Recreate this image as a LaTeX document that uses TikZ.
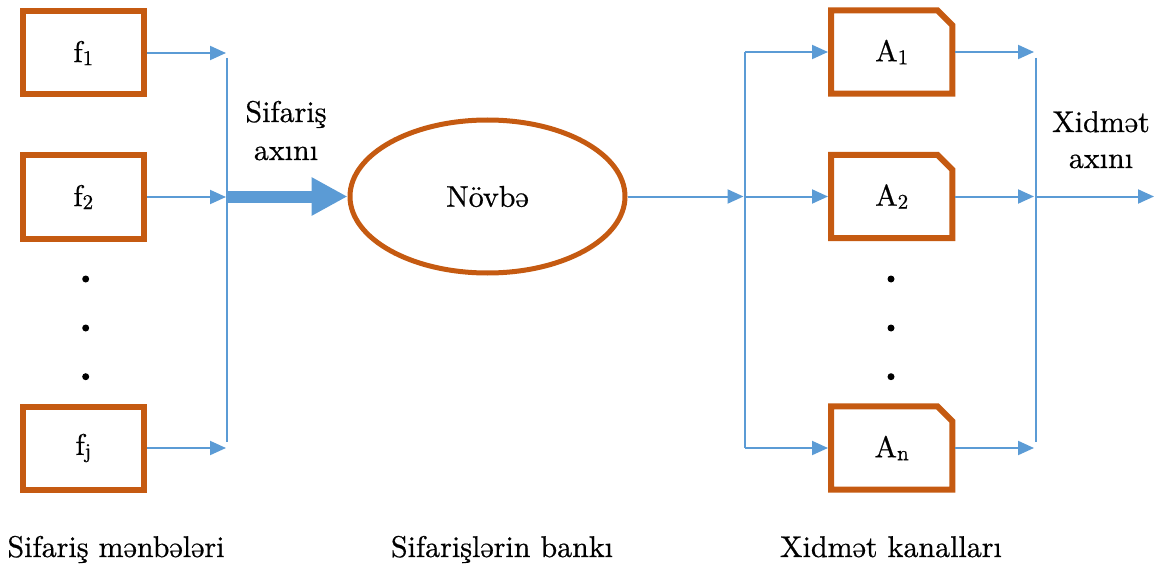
\documentclass[tikz,border=0pt]{standalone}
\usepackage{fontspec}
\newfontfamily\tnr{lmroman10-regular.otf}[FakeBold=0.6]
\usetikzlibrary{arrows.meta,shapes.geometric}
\definecolor{boxc}{HTML}{C55A11}
\definecolor{linec}{HTML}{5B9BD5}
\newcommand\subt[1]{\raisebox{-3pt}{\fontsize{21}{21}\selectfont #1}}
\begin{document}
\begin{tikzpicture}[x=1pt,y=-1pt, font=\tnr\fontsize{30}{36}\selectfont,
  srcbox/.style={draw=boxc, line width=6pt, minimum width=121pt, minimum height=83pt, inner sep=0pt},
  chanbox/.style={minimum width=121pt, minimum height=83pt, inner sep=0pt},
  chanline/.style={draw=boxc, line width=6pt, line join=miter},
  flow/.style={draw=linec, line width=2pt, -{Triangle[length=16pt,width=14pt]}},
  bigflow/.style={draw=linec, line width=12pt, -{Triangle[length=36pt,width=36pt]}},
  bar/.style={draw=linec, line width=2pt},
  lbl/.style={anchor=base, inner sep=0pt},
  dot/.style={circle, fill=black, minimum size=7pt, inner sep=0pt}]
\useasboundingbox (0,0) rectangle (1154,567);

% source boxes
\node[srcbox] (f1) at (83.3,53) {f\subt{1}};
\node[srcbox] (f2) at (83.3,197) {f\subt{2}};
\node[srcbox] (fj) at (83.3,448) {f\subt{j}};
\node[dot] (ld1) at (85.7,279) {};
\node[dot] (ld2) at (85.7,328) {};
\node[dot] (ld3) at (85.7,376.7) {};

% left bar
\coordinate (lvt) at (227,58);
\coordinate (lvb) at (227,442);
\draw[bar] (lvt) -- (lvb);
\draw[flow] (f1.east) -- ([xshift=-1pt]f1.east -| lvt);
\draw[flow] (f2.east) -- ([xshift=-1pt]f2.east -| lvt);
\draw[flow] (fj.east) -- ([xshift=-1pt]fj.east -| lvt);

% queue
\node[ellipse, draw=boxc, line width=5pt, minimum width=275pt, minimum height=153pt, inner sep=0pt] (q) at (487.5,196.5) {Növbə};
\coordinate (bs) at (228,196.5);
\draw[bigflow] (bs) -- (q.west);

% right bar
\coordinate (rt) at (745,52);
\coordinate (rb) at (745,448);
\draw[bar] (rt) -- (rb);
\draw[flow, shorten >=1.5pt] (q.east) -- (q.east -| rt);

% channel boxes
\node[chanbox] (A1) at (891.7,52) {A\subt{1}};
\node[chanbox] (A2) at (891.7,196.5) {A\subt{2}};
\node[chanbox] (An) at (891.7,448) {A\subt{n}};
\foreach \n in {A1,A2,An}
  \draw[chanline] (\n.south west) -- (\n.north west) -- ([xshift=-15pt]\n.north east)
     -- ([yshift=-15pt]\n.north east) -- (\n.south east) -- cycle;
\node[dot] (rd1) at (891,279) {};
\node[dot] (rd2) at (891,328) {};
\node[dot] (rd3) at (891,376.7) {};

\draw[flow] (rt) -- ([xshift=-3pt]A1.west);
\draw[flow] (q.east -| rt) -- ([xshift=-3pt]A2.west);
\draw[flow] (rb) -- ([xshift=-3pt]An.west);

% output bar
\coordinate (ot) at (1036,58);
\coordinate (ob) at (1036,442);
\draw[bar] (ot) -- (ob);
\draw[flow] ([xshift=3pt]A1.east) -- ([xshift=-2pt]A1.east -| ot);
\draw[flow] ([xshift=3pt]A2.east) -- ([xshift=-2pt]A2.east -| ot);
\draw[flow] ([xshift=3pt]An.east) -- ([xshift=-2pt]An.east -| ot);
\coordinate (out) at (1154,196.5);
\draw[flow] ([xshift=1pt]A2.east -| ot) -- (out);

% labels
\node[lbl] (s1) at (286,122) {Sifariş};
\node[lbl] (s2) at (286,160) {axını};
\node[lbl] (x1) at (1101,132) {Xidmət};
\node[lbl] (x2) at (1101,168) {axını};
\node[lbl] (b1) at (116,557) {Sifariş mənbələri};
\node[lbl] (b2) at (502,557) {Sifarişlərin bankı};
\node[lbl] (b3) at (891,557) {Xidmət kanalları};
\end{tikzpicture}
\end{document}
